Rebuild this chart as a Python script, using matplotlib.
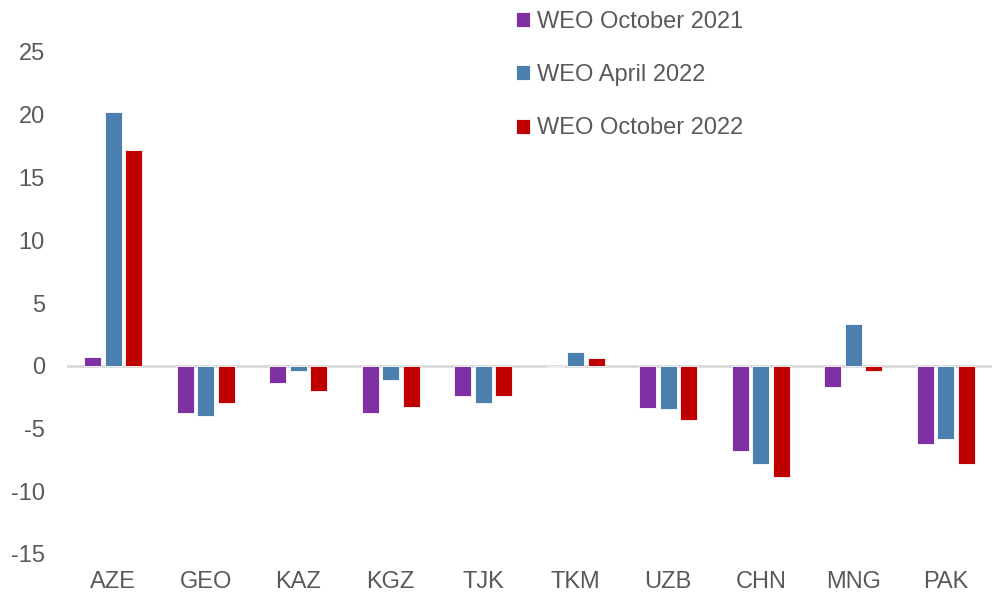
import numpy as np
import matplotlib.pyplot as plt

plt.rcParams['font.family'] = ['Liberation Sans', 'DejaVu Sans']
plt.rcParams['axes.unicode_minus'] = False

# Data
countries = ["AZE", "GEO", "KAZ", "KGZ", "TJK", "TKM", "UZB", "CHN", "MNG", "PAK"]
weo_oct_2021 = [0.7, -3.8, -1.4, -3.75, -2.45, -0.1, -3.4, -6.8, -1.7, -6.2]
weo_apr_2022 = [20.2, -4.0, -0.45, -1.1, -2.95, 1.1, -3.45, -7.8, 3.35, -5.8]
weo_oct_2022 = [17.2, -3.0, -2.0, -3.25, -2.45, 0.6, -4.3, -8.9, -0.4, -7.85]

series = [
    ("WEO October 2021", weo_oct_2021, "#7F30A3"),
    ("WEO April 2022", weo_apr_2022, "#4A7FAE"),
    ("WEO October 2022", weo_oct_2022, "#C00000"),
]

text_color = "#595959"

fig = plt.figure(figsize=(9.92, 5.94), dpi=100)
ax = fig.add_axes([67 / 992, 1 - 554 / 594, 1 - 67 / 992, (554 - 52) / 594])

x = np.arange(len(countries))
width = 0.18
offset = 0.222
for i, (label, vals, color) in enumerate(series):
    ax.bar(x + (i - 1) * offset, vals, width, color=color, label=label,
           edgecolor="white", linewidth=0.6, zorder=3)

ax.axhline(0, color="#D9D9D9", linewidth=2, zorder=2)

ax.set_xlim(-0.5, len(countries) - 0.5)
ax.set_ylim(-15, 25)
ax.set_yticks(range(-15, 26, 5))
ax.set_xticks(x)
ax.set_xticklabels(countries)
ax.tick_params(axis="both", length=0, labelsize=17, colors=text_color)
ax.tick_params(axis="y", pad=16)
ax.tick_params(axis="x", pad=12)
for s in ax.spines.values():
    s.set_visible(False)

fig.legend(loc="upper left", bbox_to_anchor=(516 / 992, 1 - 11 / 594),
           frameon=False, fontsize=17, labelcolor=text_color,
           handlelength=0.6, handleheight=0.6, handletextpad=0.3,
           labelspacing=1.32, borderpad=0, borderaxespad=0)

fig.savefig("out.png", dpi=100)
